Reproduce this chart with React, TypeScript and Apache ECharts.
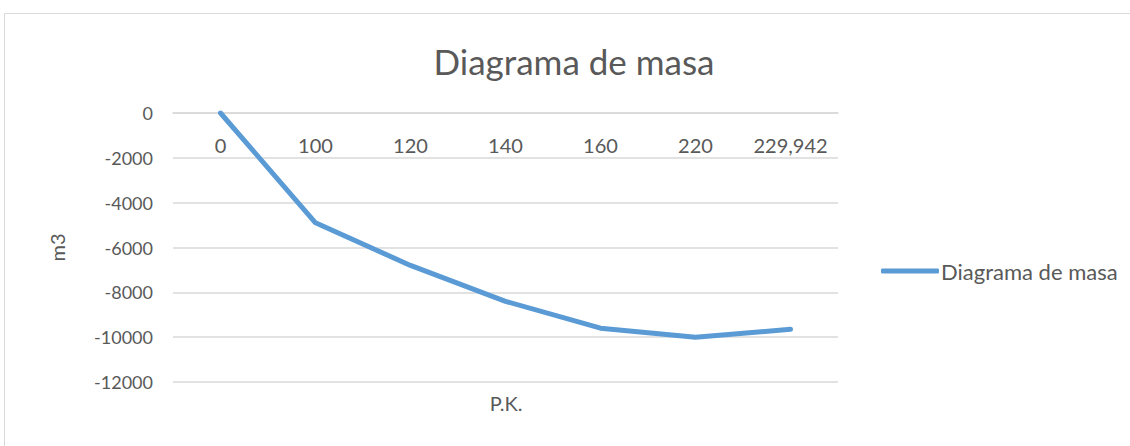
import React, { useEffect, useRef } from "react";
import * as echarts from "echarts";

const categories = ["0", "100", "120", "140", "160", "220", "229,942"];
const massValues = [0, -4900, -6800, -8400, -9600, -10000, -9650];
const seriesName = "Diagrama de masa";
const titleText = "Diagrama de masa";
const xAxisName = "P.K.";
const yAxisName = "m3";

const FONT = "Lato, 'Open Sans', sans-serif";
const GRAY = "#595959";

export default function App() {
  const ref = useRef<HTMLDivElement>(null);
  useEffect(() => {
    if (!ref.current) return;
    const chart = echarts.init(ref.current, undefined, { renderer: "svg" });
    chart.setOption({
      animation: false,
      backgroundColor: "#fff",
      textStyle: { fontFamily: FONT },
      title: {
        text: titleText,
        left: 569,
        textAlign: "center",
        top: 38,
        textStyle: { fontFamily: FONT, fontSize: 35, fontWeight: "normal", color: GRAY },
      },
      graphic: [
        {
          type: "rect",
          shape: { x: 4.5, y: 13.5, width: 1300, height: 600 },
          style: { fill: "none", stroke: "#d9d9d9", lineWidth: 1 },
          silent: true,
        },
        {
          type: "text",
          x: 506,
          y: 393,
          style: { text: xAxisName, fontFamily: FONT, fontSize: 20, fill: GRAY, textAlign: "center" },
        },
      ],
      legend: {
        orient: "vertical",
        left: 876,
        top: 255,
        itemWidth: 58,
        itemHeight: 5,
        icon: "roundRect",
        itemGap: 2,
        textStyle: { fontFamily: FONT, fontSize: 22, color: GRAY, padding: [0, 0, 0, -3] },
        data: [seriesName],
      },
      grid: { left: 173, right: 292, top: 113, bottom: 64, containLabel: false },
      xAxis: {
        type: "category",
        data: categories,
        boundaryGap: true,
        position: "top",
        axisLine: { show: true, lineStyle: { color: "#d9d9d9", width: 1.5 } },
        axisTick: { show: false },
        axisLabel: { inside: true, interval: 0, color: GRAY, fontFamily: FONT, fontSize: 20, margin: 22 },
        splitLine: { show: false },
      },
      yAxis: {
        type: "value",
        min: -12000,
        max: 0,
        interval: 2000,
        name: yAxisName,
        nameLocation: "middle",
        nameGap: 106,
        nameTextStyle: { color: GRAY, fontFamily: FONT, fontSize: 20 },
        axisLine: { show: false },
        axisTick: { show: false },
        axisLabel: {
          color: GRAY,
          fontFamily: FONT,
          fontSize: 18,
          margin: 20,
          formatter: (v: number) => String(v),
        },
        splitLine: { lineStyle: { color: "#d9d9d9", width: 1.5 } },
      },
      series: [
        {
          name: seriesName,
          type: "line",
          data: massValues,
          showSymbol: false,
          symbol: "none",
          lineStyle: { color: "#5b9bd5", width: 5, cap: "round", join: "round" },
          itemStyle: { color: "#5b9bd5" },
        },
      ],
    });
    return () => chart.dispose();
  }, []);
  return (
    <div
      ref={ref}
      style={{ position: "fixed", left: 0, top: 0, width: 1130, height: 446 }}
    />
  );
}
